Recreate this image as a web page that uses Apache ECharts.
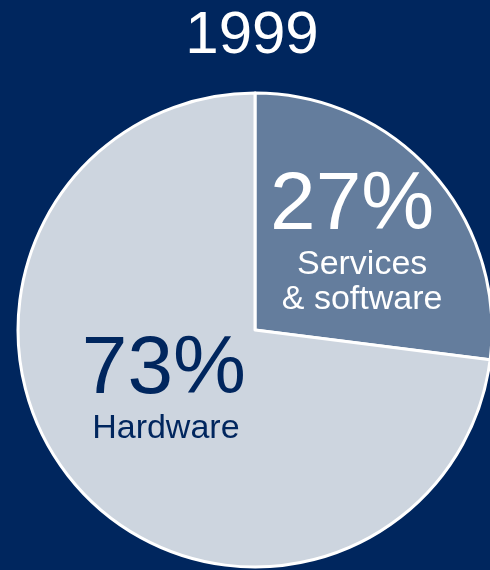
<!DOCTYPE html>
<html><head><meta charset="utf-8">
<script src="https://cdn.jsdelivr.net/npm/echarts@6/dist/echarts.min.js"></script>
<style>html,body{margin:0;padding:0;background:#00265e;}#c{width:490px;height:570px;}</style>
</head><body><div id="c"></div>
<script>
const title = '1999';
const categories = ['Services\n& software', 'Hardware'];
const values = [27, 73];
const sliceColors = ['#647d9d', '#cdd5df'];
const labelColors = ['#ffffff', '#00265e'];
const labelShift = [[6, -8], [0, -22]];
const namePad = [[0, 0, 0, 20], [0, 0, 0, 4]];

const chart = echarts.init(document.getElementById('c'), null, {renderer: 'canvas'});
const total = values.reduce((a, b) => a + b, 0);
chart.setOption({
  backgroundColor: '#00265e',
  animation: false,
  title: {
    text: title, left: 247, top: 1, textAlign: 'center',
    textStyle: {color: '#ffffff', fontSize: 60, fontWeight: 'normal', fontFamily: 'Liberation Sans'}
  },
  series: [{
    type: 'pie',
    center: [255, 330],
    radius: 237,
    startAngle: 90,
    clockwise: true,
    silent: true,
    itemStyle: {borderColor: '#ffffff', borderWidth: 3},
    labelLine: {show: false},
    labelLayout: function (p) {
      return {dx: labelShift[p.dataIndex][0], dy: labelShift[p.dataIndex][1]};
    },
    data: categories.map((c, i) => ({
      name: c,
      value: values[i],
      itemStyle: {color: sliceColors[i]},
      label: {
        show: true,
        position: 'inside',
        fontFamily: 'Liberation Sans',
        formatter: function (p) {
          const pct = Math.round(p.value / total * 100) + '%';
          return '{p|' + pct + '}\n' + p.name.split('\n').map(s => '{n|' + s + '}').join('\n');
        },
        rich: {
          p: {fontSize: 82, lineHeight: 80, color: labelColors[i], fontFamily: 'Liberation Sans', align: 'center'},
          n: {fontSize: 34, lineHeight: 35, color: labelColors[i], fontFamily: 'Liberation Sans', align: 'center', padding: namePad[i]}
        }
      }
    }))
  }]
});
</script></body></html>
